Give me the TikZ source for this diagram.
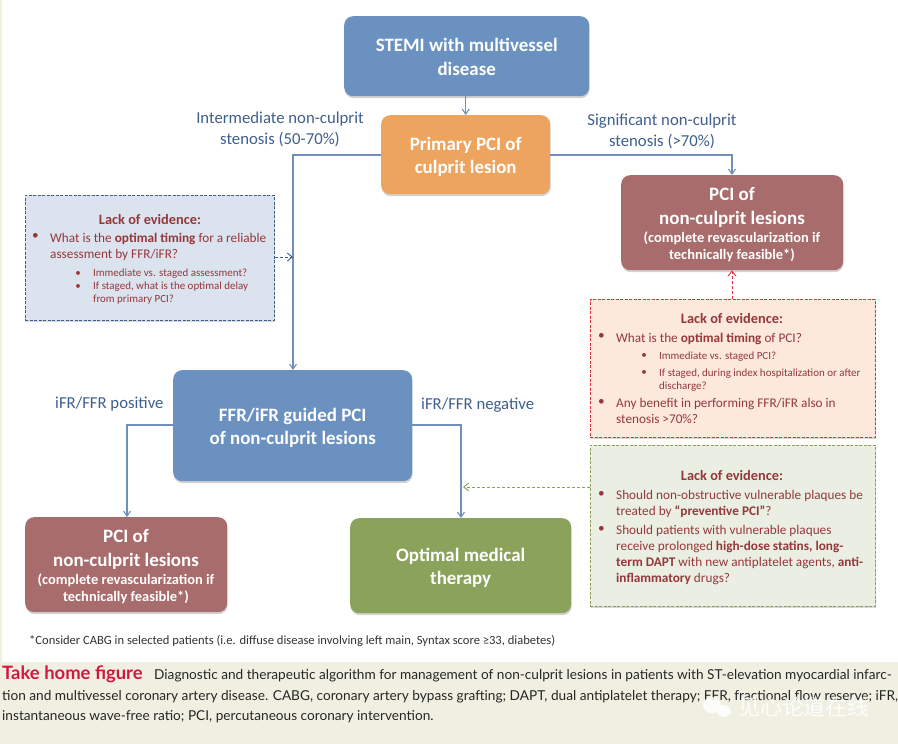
\documentclass[tikz,border=0pt]{standalone}
\usepackage{fontspec}
\setmainfont{Carlito}
\newfontfamily\cjkf{Noto Sans CJK SC}
\newfontfamily\capf{Lato}
\usetikzlibrary{shadows,arrows.meta,calc}
\definecolor{bluebox}{HTML}{6A91BF}
\definecolor{orangebox}{HTML}{EDA45F}
\definecolor{redbox}{HTML}{A96C6C}
\definecolor{greenbox}{HTML}{8BA25B}
\definecolor{lineblue}{HTML}{6F90BE}
\definecolor{labelblue}{HTML}{3F5F8F}
\definecolor{evid}{HTML}{94383A}
\definecolor{capbg}{HTML}{F0F0E2}
\definecolor{evredline}{HTML}{E2303F}
\definecolor{evredfill}{HTML}{FDE9DC}
\definecolor{crimson}{HTML}{D4163F}
\newcommand{\tstr}[1]{\rule{0pt}{#1bp}}
\tikzset{
  x=1bp,y=-1bp,
  bx/.style 2 args={minimum width=#1bp,minimum height=#2bp},
  main/.style={draw=none,rounded corners=9bp,text=white,font=\bfseries\fontsize{19}{23.5}\selectfont,align=center,anchor=north west,inner sep=0pt,
    drop shadow={shadow xshift=0.5bp,shadow yshift=-2bp,opacity=.35}},
  sub/.style={text=white,font=\bfseries\fontsize{14.5}{17}\selectfont,align=center,inner sep=0pt},
  ttl/.style={text=white,font=\bfseries\fontsize{19}{24}\selectfont,align=center,inner sep=0pt},
  evbox/.style={dash pattern=on 3bp off 1.5bp,line width=.9bp,anchor=north west,inner sep=0pt,
    drop shadow={shadow xshift=0.5bp,shadow yshift=-1.5bp,opacity=.3}},
  conn/.style={draw=lineblue,line width=1.1bp,-{Straight Barb[length=5bp,width=7bp]}},
  dconn/.style={line width=.9bp,dash pattern=on 3bp off 2bp,-{Straight Barb[length=5bp,width=8bp]}},
  lab/.style={text=labelblue,font=\fontsize{16.8}{21}\selectfont,align=center,inner sep=0pt},
  ev/.style={text=evid,font=\fontsize{13.3}{16.2}\selectfont,align=left,anchor=north west,inner sep=0pt},
  evs/.style={text=evid,font=\fontsize{11}{13.2}\selectfont,align=left,anchor=north west,inner sep=0pt},
  evt/.style={text=evid,font=\bfseries\fontsize{14.4}{16}\selectfont,inner sep=0pt},
  capt/.style={font=\capf\fontsize{13.7}{18}\selectfont,text=black!85,anchor=base west,inner sep=0pt},
}
\begin{document}
\begin{tikzpicture}
\useasboundingbox (0,0) rectangle (898,744);
\fill[white] (0,0) rectangle (898,744);
\fill[capbg] (0,0) rectangle (2,662);
\fill[capbg] (0,662) rectangle (898,744);

% main boxes
\node[main,fill=bluebox,bx={245}{80}] (stemi) at (344,16) {\tstr{15}STEMI with multivessel\\disease};
\node[main,fill=orangebox,bx={169}{79}] (prim) at (381,115) {\tstr{18}Primary PCI of\\culprit lesion};
\node[main,fill=redbox,bx={222}{95}] (pcir) at (621,175) {};
\node[ttl] (pcirt) at (732,207) {PCI of\\non-culprit lesions};
\node[sub] (pcirs) at (732,246.5) {(complete revascularization if\\technically feasible*)};
\node[main,fill=bluebox,bx={239}{111}] (ffr) at (173,370) {\tstr{18}FFR/iFR guided PCI\\of non-culprit lesions};
\node[main,fill=redbox,bx={202}{95}] (pcil) at (25,517) {};
\node[ttl] (pcilt) at (126,549) {PCI of\\non-culprit lesions};
\node[sub] (pcils) at (126,589) {(complete revascularization if\\technically feasible*)};
\node[main,fill=greenbox,bx={221}{95}] (omt) at (350,518) {\tstr{18}Optimal medical\\therapy};

% evidence boxes
\node[evbox,draw=labelblue,fill=lineblue!25!white,bx={249}{125}] (evb) at (25,195) {};
\node[evbox,draw=evredline,fill=evredfill,bx={285}{138}] (evr) at (590,299) {};
\node[evbox,draw=greenbox,fill=greenbox!17!white,bx={285}{161}] (evg) at (590,445) {};

% connectors
\coordinate (jl) at (293,155);
\coordinate (jr) at (732,155);
\coordinate (fl) at (127,425);
\coordinate (fr) at (461,425);
\draw[conn] (stemi.south -| prim.north) -- (prim.north);
\draw[conn] (prim.west |- jl) -- (jl) -- (jl |- ffr.north);
\draw[conn] (prim.east |- jr) -- (jr) -- (pcir.north -| jr);
\draw[conn] (ffr.west |- fl) -- (fl) -- (fl |- pcil.north);
\draw[conn] (ffr.east |- fr) -- (fr) -- (fr |- omt.north);
\coordinate (db) at (293,257);
\coordinate (dg) at (463,487);
\draw[dconn,draw=labelblue] (evb.east |- db) -- (db);
\draw[dconn,draw=evredline] (evr.north -| jr) -- (pcir.south -| jr);
\draw[dconn,draw=greenbox] (evg.west |- dg) -- (dg);

% labels
\node[lab] (l1) at (280,129.5) {Intermediate non-culprit\\stenosis (50-70\%)};
\node[lab] (l2) at (662,131.5) {Significant non-culprit\\stenosis (>70\%)};
\node[lab,anchor=west] (l3) at (55,404) {iFR/FFR positive};
\node[lab,anchor=west] (l4) at (421,405.5) {iFR/FFR negative};

% blue evidence text
\node[evt] (t1) at (150,220) {Lack of evidence:};
\node[ev] (t1a) at (50,232.5) {What is the \textbf{optimal timing} for a reliable\\assessment by FFR/iFR?};
\node[ev,anchor=north east] (b1a) at (39,233) {•};
\node[evs] (t1b) at (93,268.5) {Immediate vs. staged assessment?};
\node[evs] (t1c) at (93,281.5) {If staged, what is the optimal delay\\from primary PCI?};
\node[evs,anchor=north east] (b1b) at (81,271) {•};
\node[evs,anchor=north east] (b1c) at (81,284) {•};

% red evidence text
\node[evt] (t2) at (732,319) {Lack of evidence:};
\node[ev] (t2a) at (616,332.5) {What is the \textbf{optimal timing} of PCI?};
\node[ev,anchor=north east] (b2a) at (605,333) {•};
\node[evs] (t2b) at (659,352) {Immediate vs. staged PCI?};
\node[evs] (t2c) at (659,368.5) {If staged, during index hospitalization or after\\discharge?};
\node[evs,anchor=north east] (b2b) at (647,353.5) {•};
\node[evs,anchor=north east] (b2c) at (647,370.5) {•};
\node[ev] (t2d) at (616,398) {Any benefit in performing FFR/iFR also in\\stenosis >70\%?};
\node[ev,anchor=north east] (b2d) at (605,399) {•};

% green evidence text
\node[evt] (t3) at (732,476) {Lack of evidence:};
\node[ev] (t3a) at (616,490) {Should non-obstructive vulnerable plaques be\\treated by \textbf{“preventive PCI”}?};
\node[ev,anchor=north east] (b3a) at (605,491) {•};
\node[ev] (t3b) at (616,525) {Should patients with vulnerable plaques\\receive prolonged \textbf{high-dose statins, long-}\\\textbf{term DAPT} with new antiplatelet agents, \textbf{anti-}\\\textbf{inflammatory} drugs?};
\node[ev,anchor=north east] (b3b) at (605,526) {•};

% footnote
\node[anchor=base west,inner sep=0pt,font=\fontsize{12.6}{14}\selectfont,text=black!80] (foot) at (29,644) {*Consider CABG in selected patients (i.e. diffuse disease involving left main, Syntax score ≥33, diabetes)};

% caption
\node[anchor=base west,inner sep=0pt,font=\capf\bfseries\fontsize{18.5}{20}\selectfont,text=crimson] (cap0) at (2,679) {Take home figure};
\node[capt] (cap1) at (154,679) {Diagnostic and therapeutic algorithm for management of non-culprit lesions in patients with ST-elevation myocardial infarc-};
\node[capt] (cap2) at (2,700) {tion and multivessel coronary artery disease. CABG, coronary artery bypass grafting; DAPT, dual antiplatelet therapy; FFR, fractional flow reserve; iFR,};
\node[capt] (cap3) at (2,720) {instantaneous wave-free ratio; PCI, percutaneous coronary intervention.};

% watermark
\fill[white,opacity=.85] (712,705) ellipse (9 and 8) (724,711) ellipse (7 and 6);
\node[anchor=west,inner sep=0pt,font=\cjkf\fontsize{22}{24}\selectfont,text=white,opacity=.85] (wm) at (738,707) {见心论道在线};
\end{tikzpicture}
\end{document}
